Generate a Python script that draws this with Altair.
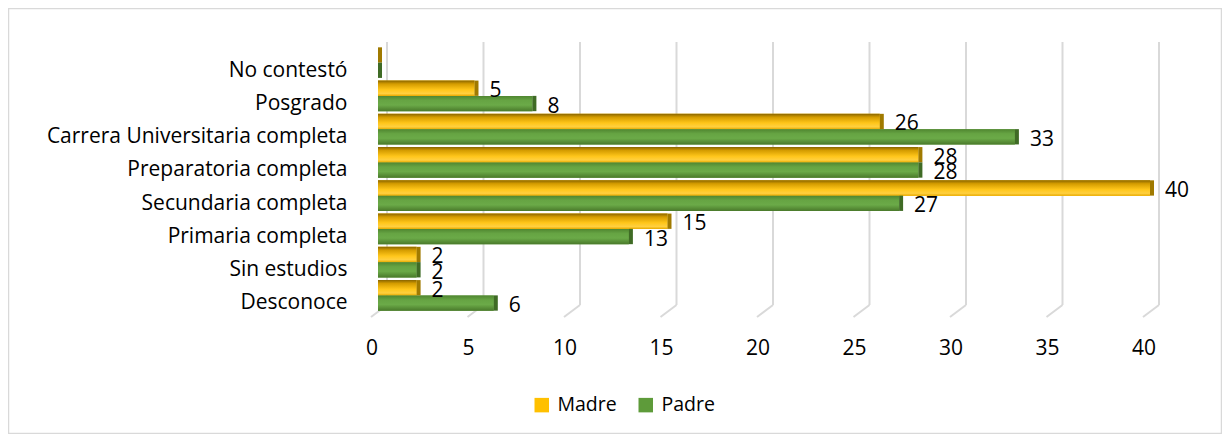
import altair as alt
import pandas as pd

categories = ["No contestó", "Posgrado", "Carrera Universitaria completa",
              "Preparatoria completa", "Secundaria completa", "Primaria completa",
              "Sin estudios", "Desconoce"]
madre = [0, 5, 26, 28, 40, 15, 2, 2]
padre = [0, 8, 33, 28, 27, 13, 2, 6]
series = ["Madre", "Padre"]
colors = ["#FFC000", "#5E9B3A"]
x_ticks = [0, 5, 10, 15, 20, 25, 30, 35, 40]

rows = []
for c, m, p in zip(categories, madre, padre):
    rows.append({"cat": c, "serie": "Madre", "v": m, "label": str(m) if m > 0 else ""})
    rows.append({"cat": c, "serie": "Padre", "v": p, "label": str(p) if p > 0 else ""})
df = pd.DataFrame(rows)
ticks_df = pd.DataFrame({"t": x_ticks, "cat": [categories[0]] * len(x_ticks)})

FONT = "Open Sans"
FS = 21
GRID = "#D9D9D9"

xscale = alt.Scale(domain=[0, 40], nice=False, zero=True)
yscale = alt.Scale(domain=categories, paddingInner=0.08, paddingOuter=0.04)
yoff_scale = alt.Scale(domain=series, paddingInner=0, paddingOuter=0)

xaxis = alt.Axis(values=x_ticks, grid=False, domain=False, ticks=False,
                 labelFlush=False, labelOffset=-6.5, labelPadding=25, labelFontSize=FS,
                 labelFont=FONT, labelColor="#000000", title=None)
yaxis = alt.Axis(domain=False, ticks=False, labelPadding=31, labelOffset=8,
                 labelFontSize=FS, labelFont=FONT, labelColor="#000000",
                 labelLimit=400, title=None)

X = alt.X("v:Q", scale=xscale, axis=xaxis)
Y = alt.Y("cat:N", scale=yscale, sort=categories, axis=yaxis)
YO = alt.YOffset("serie:N", scale=yoff_scale, sort=series)

border = alt.Chart(pd.DataFrame({"a": [0]})).mark_rect(
    fill=None, stroke=GRID, strokeWidth=1.5
).encode(x=alt.value(-369.5), x2=alt.value(843.5), y=alt.value(-37.5), y2=alt.value(387.5))

grid_v = alt.Chart(ticks_df).mark_rule(color=GRID, strokeWidth=2, xOffset=9).encode(
    x=alt.X("t:Q", scale=xscale, axis=xaxis), y=alt.value(-4), y2=alt.value(259))
grid_s = alt.Chart(ticks_df).mark_rule(color=GRID, strokeWidth=2, xOffset=9, x2Offset=-7).encode(
    x=alt.X("t:Q", scale=xscale, axis=xaxis), x2="t:Q", y=alt.value(259), y2=alt.value(271))

base = alt.Chart(df)

bars = base.mark_bar(strokeWidth=0).encode(
    x=X, y=Y, yOffset=YO,
    color=alt.Color("serie:N", scale=alt.Scale(domain=series, range=colors),
                    legend=alt.Legend(orient="none", legendX=154, legendY=349,
                                      direction="horizontal", title=None,
                                      symbolType="square", symbolSize=210,
                                      labelFontSize=19.5, labelFont=FONT,
                                      labelColor="#000000", columnPadding=19,
                                      labelOffset=6, padding=0,
                                      symbolStrokeWidth=0)))

madre_grad = alt.Gradient(gradient="linear", x1=0, x2=0, y1=0, y2=1, stops=[
    alt.GradientStop(offset=0, color="#8A6600"),
    alt.GradientStop(offset=0.22, color="#D49C00"),
    alt.GradientStop(offset=0.6, color="#FFC61A"),
    alt.GradientStop(offset=0.85, color="#FFD040"),
    alt.GradientStop(offset=1, color="#E8AA00")])
padre_grad = alt.Gradient(gradient="linear", x1=0, x2=0, y1=0, y2=1, stops=[
    alt.GradientStop(offset=0, color="#4F8530"),
    alt.GradientStop(offset=0.3, color="#66A443"),
    alt.GradientStop(offset=0.6, color="#6BAA48"),
    alt.GradientStop(offset=1, color="#4A7A2B")])

madre_bars = base.transform_filter(alt.datum.serie == "Madre").mark_bar(
    color=madre_grad, strokeWidth=0).encode(x=X, y=Y, yOffset=YO)
padre_bars = base.transform_filter(alt.datum.serie == "Padre").mark_bar(
    color=padre_grad, strokeWidth=0).encode(x=X, y=Y, yOffset=YO)

caps = base.mark_bar(strokeWidth=0, x2Offset=4).encode(
    x=X, x2="v:Q", y=Y, yOffset=YO,
    fill=alt.Fill("serie:N", scale=alt.Scale(domain=series, range=["#A07A00", "#3F6B25"]), legend=None))

labels = base.mark_text(align="left", baseline="middle", dx=15, dy=3,
                        fontSize=FS, font=FONT, color="#000000").encode(
    x=X, y=Y, yOffset=YO, text="label:N")

chart = alt.layer(border, grid_v, grid_s, bars, madre_bars, padre_bars, caps, labels).resolve_scale(
    fill="independent"
).properties(
    width=772, height=266,
    autosize=alt.AutoSizeParams(type="none"),
    padding={"left": 370, "top": 38, "right": 72, "bottom": 122},
    background="white",
).configure_view(stroke=None)

chart.save("out.html", embed_options={"renderer": "svg", "actions": False})
